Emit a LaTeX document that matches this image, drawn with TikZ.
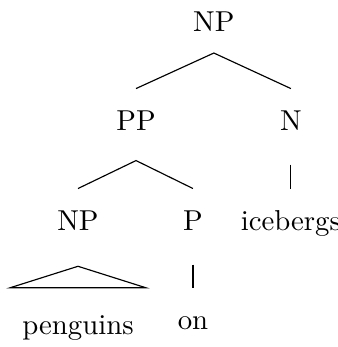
\documentclass[tikz,border=0pt]{standalone}
\usepackage{tikz}
\tikzset{>=latex}

\begin{document}
\begin{tikzpicture}[
            cat/.style={text height=7pt, text depth=0pt, inner ysep=7.2pt, anchor=base}
        ]
            \useasboundingbox (0, 0) rectangle (4.125, -4.235);
            % categories
            \node[cat] (np) at (2.61, -0.387) {NP};
            \node[cat] (pp) at (1.66, -1.587) {PP};
            \node[cat] (n) at (3.55, -1.587) {N};
            \node[cat] (npb) at (0.952, -2.807) {NP};
            \node[cat] (p) at (2.355, -2.807) {P};
            % words
            \node[cat] (ice) at (3.55, -2.807) {icebergs};
            \node[cat, inner xsep=4pt] (pen) at (0.952, -4.088) {penguins};
            \node[cat] (on) at (2.355, -4.027) {on};
            % branches
            \draw (pp.north) -- (np.south) -- (n.north);
            \draw (npb.north) -- ([yshift=-3.2pt]pp.south) -- (p.north);
            \draw ([yshift=-4.6pt]n.south) -- (ice.north);
            \draw ([yshift=-4.6pt]p.south) -- (on.north);
            \draw ([yshift=-5.2pt]npb.south) -- ([yshift=2pt]pen.north west) -- ([yshift=2pt]pen.north east) -- cycle;
        \end{tikzpicture}
\end{document}
